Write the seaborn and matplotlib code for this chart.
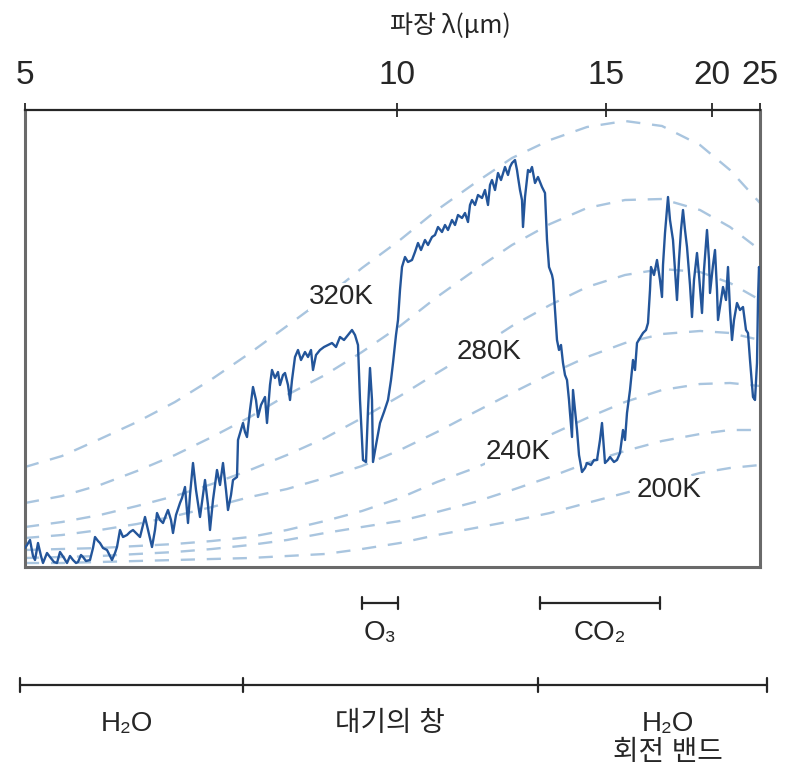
import numpy as np
import pandas as pd
import matplotlib
matplotlib.use("Agg")
import matplotlib.pyplot as plt
import seaborn as sns

# ---------------- data ----------------
# x: position along the (schematic) wavelength axis, y: radiance (arbitrary units)
tick_pos = [25, 397, 606, 712, 760]
tick_labels = ["5", "10", "15", "20", "25"]

temps = [320, 300, 280, 260, 240, 220, 200]
grid_pos = [25, 62, 100, 137, 175, 212, 250, 287, 325, 362, 400, 437, 475, 512,
            550, 587, 625, 662, 700, 730, 760]
bb_320 = [100, 111, 128, 145, 165, 188, 214, 241, 269, 299, 327, 357, 384, 409, 427, 440, 446, 441, 422, 397, 364]
bb_300 = [64, 71, 82, 96, 112, 130, 150, 172, 192, 215, 241, 270, 297, 322, 343, 359, 367, 368, 357, 340, 317]
bb_280 = [40, 45, 52, 61, 71, 83, 97, 112, 129, 149, 171, 194, 217, 241, 262, 280, 292, 298, 295, 284, 267]
bb_260 = [29, 32, 37, 43, 51, 60, 70, 78, 89, 101, 117, 135, 155, 174, 193, 210, 224, 233, 236, 234, 227]
bb_240 = [17, 18, 19, 21, 23, 26, 30, 37, 46, 56, 69, 85, 99, 115, 132, 149, 165, 177, 183, 184, 181]
bb_220 = [9, 10, 11, 13, 15, 18, 22, 27, 34, 40, 46, 55, 65, 77, 90, 104, 116, 126, 133, 137, 137]
bb_200 = [4, 4, 5, 6, 7, 8, 9, 11, 13, 18, 24, 32, 39, 46, 54, 64, 74, 84, 94, 99, 102]
bb_curves = [bb_320, bb_300, bb_280, bb_260, bb_240, bb_220, bb_200]

label_temps = ["320K", "280K", "240K", "200K"]
label_pos = [341, 489, 518, 669]
label_rad = [270, 215, 115, 77]

spec_pos = [25, 27, 30, 33, 35, 38, 41, 43, 47, 50, 54, 57, 60, 64, 67, 70, 73, 76, 78, 81,
            83, 86, 90, 93, 95, 98, 100, 103, 107, 110, 112, 115, 117, 120, 123, 127, 130, 133, 137, 140,
            143, 145, 148, 152, 155, 157, 160, 163, 166, 168, 171, 173, 176, 180, 182, 185, 188, 190, 193, 196,
            200, 203, 205, 208, 210, 213, 217, 220, 223, 226, 228, 231, 233, 237, 238, 241, 243, 245, 247, 250,
            253, 256, 258, 261, 265, 267, 270, 272, 275, 278, 280, 283, 285, 288, 290, 292, 295, 298, 301, 305,
            308, 311, 313, 316, 320, 324, 328, 332, 336, 340, 344, 348, 352, 355, 358, 360, 363, 366, 368, 370,
            372, 373, 376, 380, 384, 388, 391, 393, 396, 398, 400, 402, 405, 408, 412, 415, 418, 421, 425, 428,
            432, 435, 438, 442, 445, 448, 452, 455, 458, 462, 465, 468, 470, 472, 475, 478, 482, 485, 488, 490,
            492, 495, 498, 501, 505, 508, 510, 512, 515, 517, 518, 520, 522, 523, 525, 528, 530, 532, 535, 538,
            540, 542, 545, 547, 549, 552, 553, 555, 557, 559, 561, 563, 565, 567, 569, 570, 572, 573, 575, 577,
            579, 582, 585, 587, 591, 594, 597, 600, 602, 604, 605, 608, 610, 614, 617, 620, 623, 625, 627, 630,
            633, 635, 637, 640, 643, 646, 648, 650, 651, 654, 657, 660, 662, 663, 665, 668, 670, 673, 675, 677,
            679, 681, 683, 685, 687, 690, 692, 694, 697, 699, 702, 704, 707, 709, 710, 713, 715, 717, 718, 721,
            723, 726, 728, 730, 732, 734, 737, 740, 743, 746, 748, 750, 753, 755, 757, 758, 759, 760]
spec_rad = [19, 22, 27, 11, 7, 24, 11, 4, 14, 10, 5, 4, 15, 9, 4, 11, 7, 4, 5, 12,
            10, 6, 7, 19, 30, 26, 24, 19, 17, 11, 7, 14, 20, 37, 30, 32, 35, 37, 33, 30,
            42, 50, 37, 20, 37, 54, 47, 44, 52, 57, 47, 34, 52, 64, 69, 80, 44, 72, 104, 77,
            50, 72, 87, 62, 37, 67, 97, 82, 104, 77, 57, 72, 87, 90, 127, 137, 144, 135, 130, 157,
            180, 167, 150, 162, 170, 144, 182, 197, 189, 195, 182, 192, 194, 182, 167, 187, 210, 217, 207, 215,
            210, 217, 197, 212, 217, 220, 222, 224, 220, 230, 227, 232, 237, 232, 222, 167, 107, 105, 157, 199,
            167, 105, 122, 144, 155, 167, 187, 204, 232, 247, 277, 300, 310, 305, 307, 315, 324, 317, 327, 322,
            330, 332, 340, 335, 342, 337, 347, 342, 352, 349, 354, 345, 362, 367, 362, 372, 369, 377, 362, 382,
            387, 377, 394, 387, 400, 392, 400, 404, 407, 397, 390, 377, 367, 340, 370, 397, 395, 400, 384, 390,
            385, 380, 374, 327, 300, 292, 287, 257, 227, 217, 222, 204, 192, 187, 167, 154, 130, 177, 157, 137,
            112, 95, 99, 104, 102, 107, 107, 127, 144, 117, 104, 107, 110, 105, 107, 114, 137, 127, 154, 177,
            207, 197, 224, 229, 234, 237, 244, 277, 300, 292, 307, 287, 270, 302, 334, 370, 347, 327, 297, 267,
            307, 337, 357, 337, 320, 282, 250, 287, 314, 292, 254, 297, 337, 307, 274, 302, 317, 277, 247, 267,
            280, 267, 300, 257, 227, 247, 264, 257, 260, 237, 234, 207, 170, 167, 204, 267, 300, 292]

band_names = ["O₃", "CO₂"]
band_start = [362, 540]
band_end = [398, 660]
region_edges = [20, 243, 538, 767]
region_names = ["H₂O", "대기의 창", "H₂O\n회전 밴드"]

# ---------------- style ----------------
sns.set_theme(style="white")
plt.rcParams["font.family"] = ["Liberation Sans", "Noto Sans CJK KR", "DejaVu Sans"]

DASH_COLOR = "#a9c5df"
LINE_COLOR = "#23559a"
INK = "#262626"

fig = plt.figure(figsize=(7.86, 7.71), dpi=100)
ax = fig.add_axes([25 / 786, (771 - 567) / 771, 735 / 786, 457 / 771])

bb_df = pd.DataFrame({
    "pos": np.tile(grid_pos, len(temps)),
    "rad": np.concatenate(bb_curves),
    "T": np.repeat(temps, len(grid_pos)),
})
for T in temps:
    sub = bb_df[bb_df["T"] == T]
    sns.lineplot(data=sub, x="pos", y="rad", ax=ax, color=DASH_COLOR, lw=1.7,
                 linestyle=(0, (6, 5)), estimator=None, sort=False, zorder=1)

spec_df = pd.DataFrame({"pos": spec_pos, "rad": spec_rad})
sns.lineplot(data=spec_df, x="pos", y="rad", ax=ax, color=LINE_COLOR, lw=1.7,
             estimator=None, sort=False, zorder=4)

for txt, px, py in zip(label_temps, label_pos, label_rad):
    ax.text(px, py, txt, ha="center", va="center", fontsize=20, color=INK,
            bbox=dict(facecolor="white", edgecolor="none", pad=0.5), zorder=3)

ax.set_xlim(25, 760)
ax.set_ylim(0, 457)
ax.set_xlabel("")
ax.set_ylabel("")
ax.set_yticks([])
ax.xaxis.tick_top()
ax.set_xticks(tick_pos)
ax.set_xticklabels(tick_labels)
ax.tick_params(axis="x", direction="inout", length=10, width=1.3, colors=INK,
               labelsize=24, pad=9, top=True, bottom=False)
for side in ["left", "right", "bottom"]:
    ax.spines[side].set_color("#6a6a6a")
    ax.spines[side].set_linewidth(2.2)
ax.spines["top"].set_color(INK)
ax.spines["top"].set_linewidth(1.6)

fig.text(450 / 786, 1 - 26 / 771, "파장 λ(μm)", ha="center", va="center",
         fontsize=18, color=INK, family=["Noto Sans CJK KR", "DejaVu Sans"])

# absorption bands below the plot
yb = -36
for name, s, e in zip(band_names, band_start, band_end):
    ax.plot([s, e], [yb, yb], color=INK, lw=1.6, clip_on=False)
    for xx in (s, e):
        ax.plot([xx, xx], [yb - 6, yb + 6], color=INK, lw=1.6, clip_on=False)
    ax.text((s + e) / 2, yb - 30, name, ha="center", va="center", fontsize=20,
            color=INK, family=["Liberation Sans", "DejaVu Sans"])

yr = -118
ax.plot([region_edges[0], region_edges[-1]], [yr, yr], color=INK, lw=1.6, clip_on=False)
for xx in region_edges:
    ax.plot([xx, xx], [yr - 7, yr + 7], color=INK, lw=1.6, clip_on=False)
region_x = [127, 390, 668]
for name, xx in zip(region_names, region_x):
    ax.text(xx, yr - 26, name, ha="center", va="top", fontsize=20, color=INK,
            linespacing=1.15,
            family=["Liberation Sans", "Noto Sans CJK KR", "DejaVu Sans"])

fig.savefig("out.png", dpi=100)
